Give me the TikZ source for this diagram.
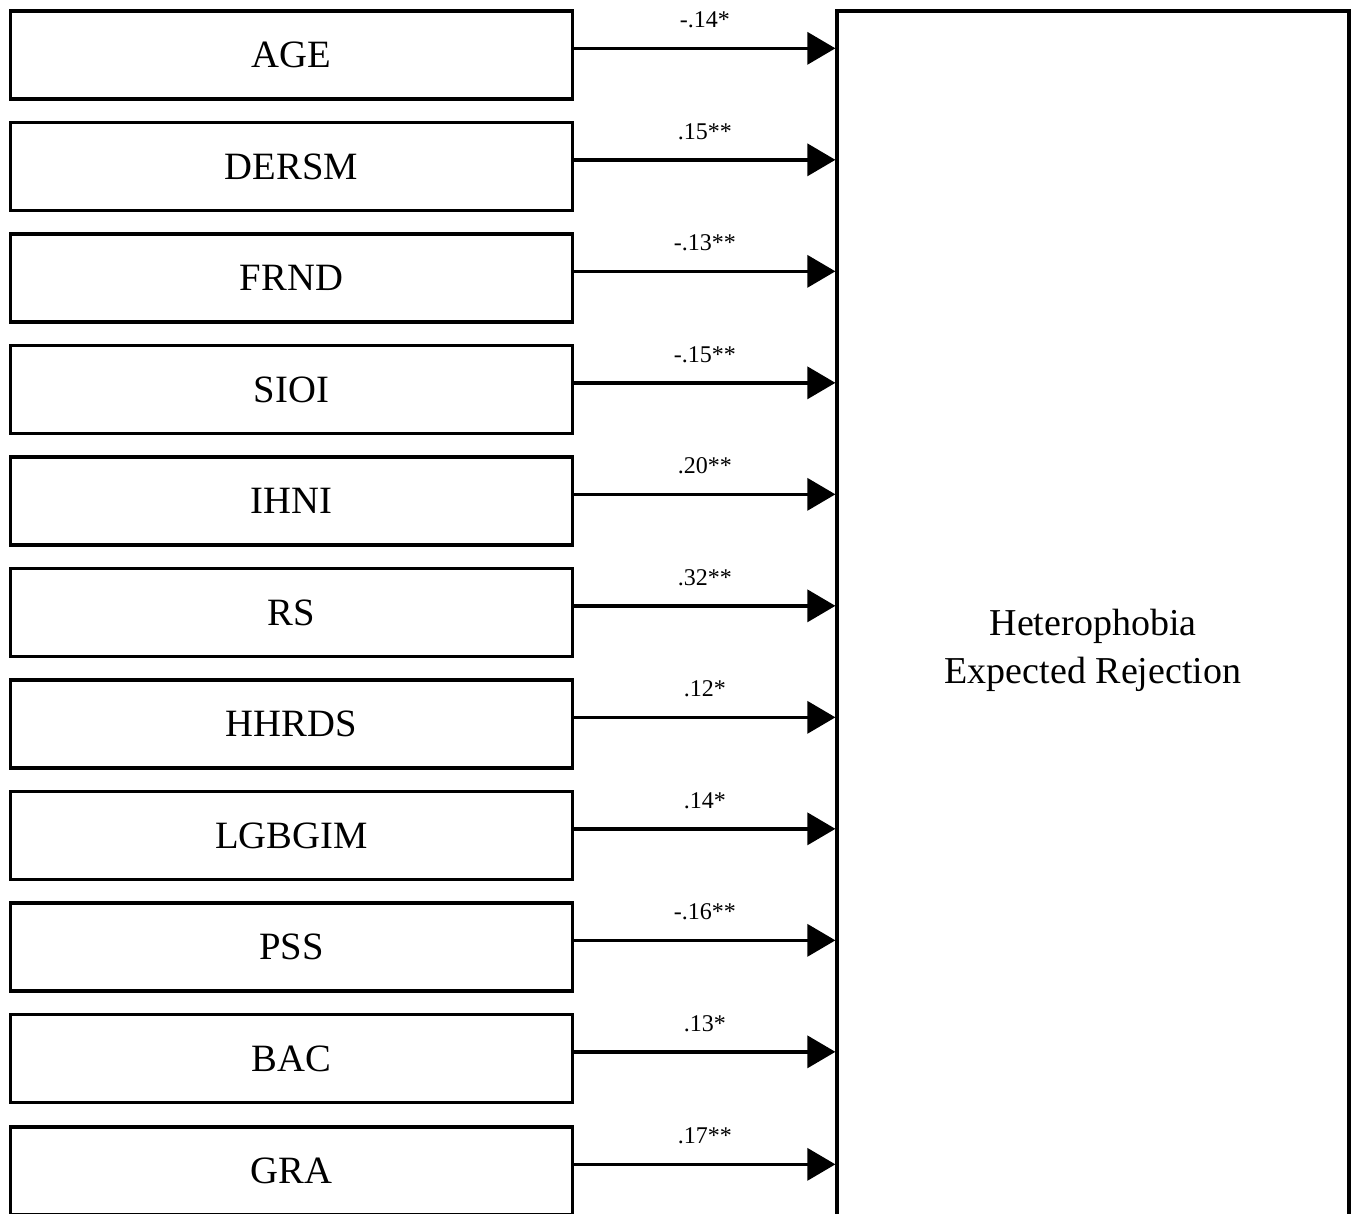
\documentclass[tikz,border=0pt]{standalone}
\usepackage{fontspec}
\setmainfont{Liberation Serif}
\usetikzlibrary{arrows.meta, positioning}

\tikzset{
  varbox/.style={draw, line width=2.3pt, minimum width=422pt, minimum height=66pt,
    inner sep=0pt, font=\fontsize{29}{34}\selectfont},
  outbox/.style={draw, line width=2.4pt, minimum width=384pt, minimum height=958.5pt,
    align=center, font=\fontsize{28.5}{36}\selectfont},
  effect/.style={line width=2.5pt, -{Triangle[length=21pt, width=24pt]}},
  coef/.style={pos=0.5, anchor=base, yshift=15.5pt, inner sep=0pt, font=\fontsize{18}{21}\selectfont}
}

\begin{document}
\begin{tikzpicture}[x=0.75pt, y=-0.75pt]

    % Page frame
    \useasboundingbox (0,0) rectangle (1351,1213);
    \clip (0,0) rectangle (1351,1213);

    % Predictors
    \node[varbox] (age)    at (291.5,55)     {AGE};
    \node[varbox] (dersm)  at (291.5,166.5)  {DERSM};
    \node[varbox] (frnd)   at (291.5,278)    {FRND};
    \node[varbox] (sioi)   at (291.5,389.5)  {SIOI};
    \node[varbox] (ihni)   at (291.5,501)    {IHNI};
    \node[varbox] (rs)     at (291.5,612.5)  {RS};
    \node[varbox] (hhrds)  at (291.5,724)    {HHRDS};
    \node[varbox] (lgbgim) at (291.5,835.5)  {LGBGIM};
    \node[varbox] (pss)    at (291.5,947)    {PSS};
    \node[varbox] (bac)    at (291.5,1058.5) {BAC};
    \node[varbox] (gra)    at (291.5,1171)   {GRA};

    % Outcome
    \node[outbox] (rej) at (1093,650) {Heterophobia\\Expected Rejection};

    % Paths
    \draw[effect] ([yshift=5pt]age.east)    -- ([yshift=5pt]age.east -| rej.west)    node[coef] {-.14*};
    \draw[effect] ([yshift=5pt]dersm.east)  -- ([yshift=5pt]dersm.east -| rej.west)  node[coef] {.15**};
    \draw[effect] ([yshift=5pt]frnd.east)   -- ([yshift=5pt]frnd.east -| rej.west)   node[coef] {-.13**};
    \draw[effect] ([yshift=5pt]sioi.east)   -- ([yshift=5pt]sioi.east -| rej.west)   node[coef] {-.15**};
    \draw[effect] ([yshift=5pt]ihni.east)   -- ([yshift=5pt]ihni.east -| rej.west)   node[coef] {.20**};
    \draw[effect] ([yshift=5pt]rs.east)     -- ([yshift=5pt]rs.east -| rej.west)     node[coef] {.32**};
    \draw[effect] ([yshift=5pt]hhrds.east)  -- ([yshift=5pt]hhrds.east -| rej.west)  node[coef] {.12*};
    \draw[effect] ([yshift=5pt]lgbgim.east) -- ([yshift=5pt]lgbgim.east -| rej.west) node[coef] {.14*};
    \draw[effect] ([yshift=5pt]pss.east)    -- ([yshift=5pt]pss.east -| rej.west)    node[coef] {-.16**};
    \draw[effect] ([yshift=5pt]bac.east)    -- ([yshift=5pt]bac.east -| rej.west)    node[coef] {.13*};
    \draw[effect] ([yshift=5pt]gra.east)    -- ([yshift=5pt]gra.east -| rej.west)    node[coef] {.17**};
\end{tikzpicture}
\end{document}
